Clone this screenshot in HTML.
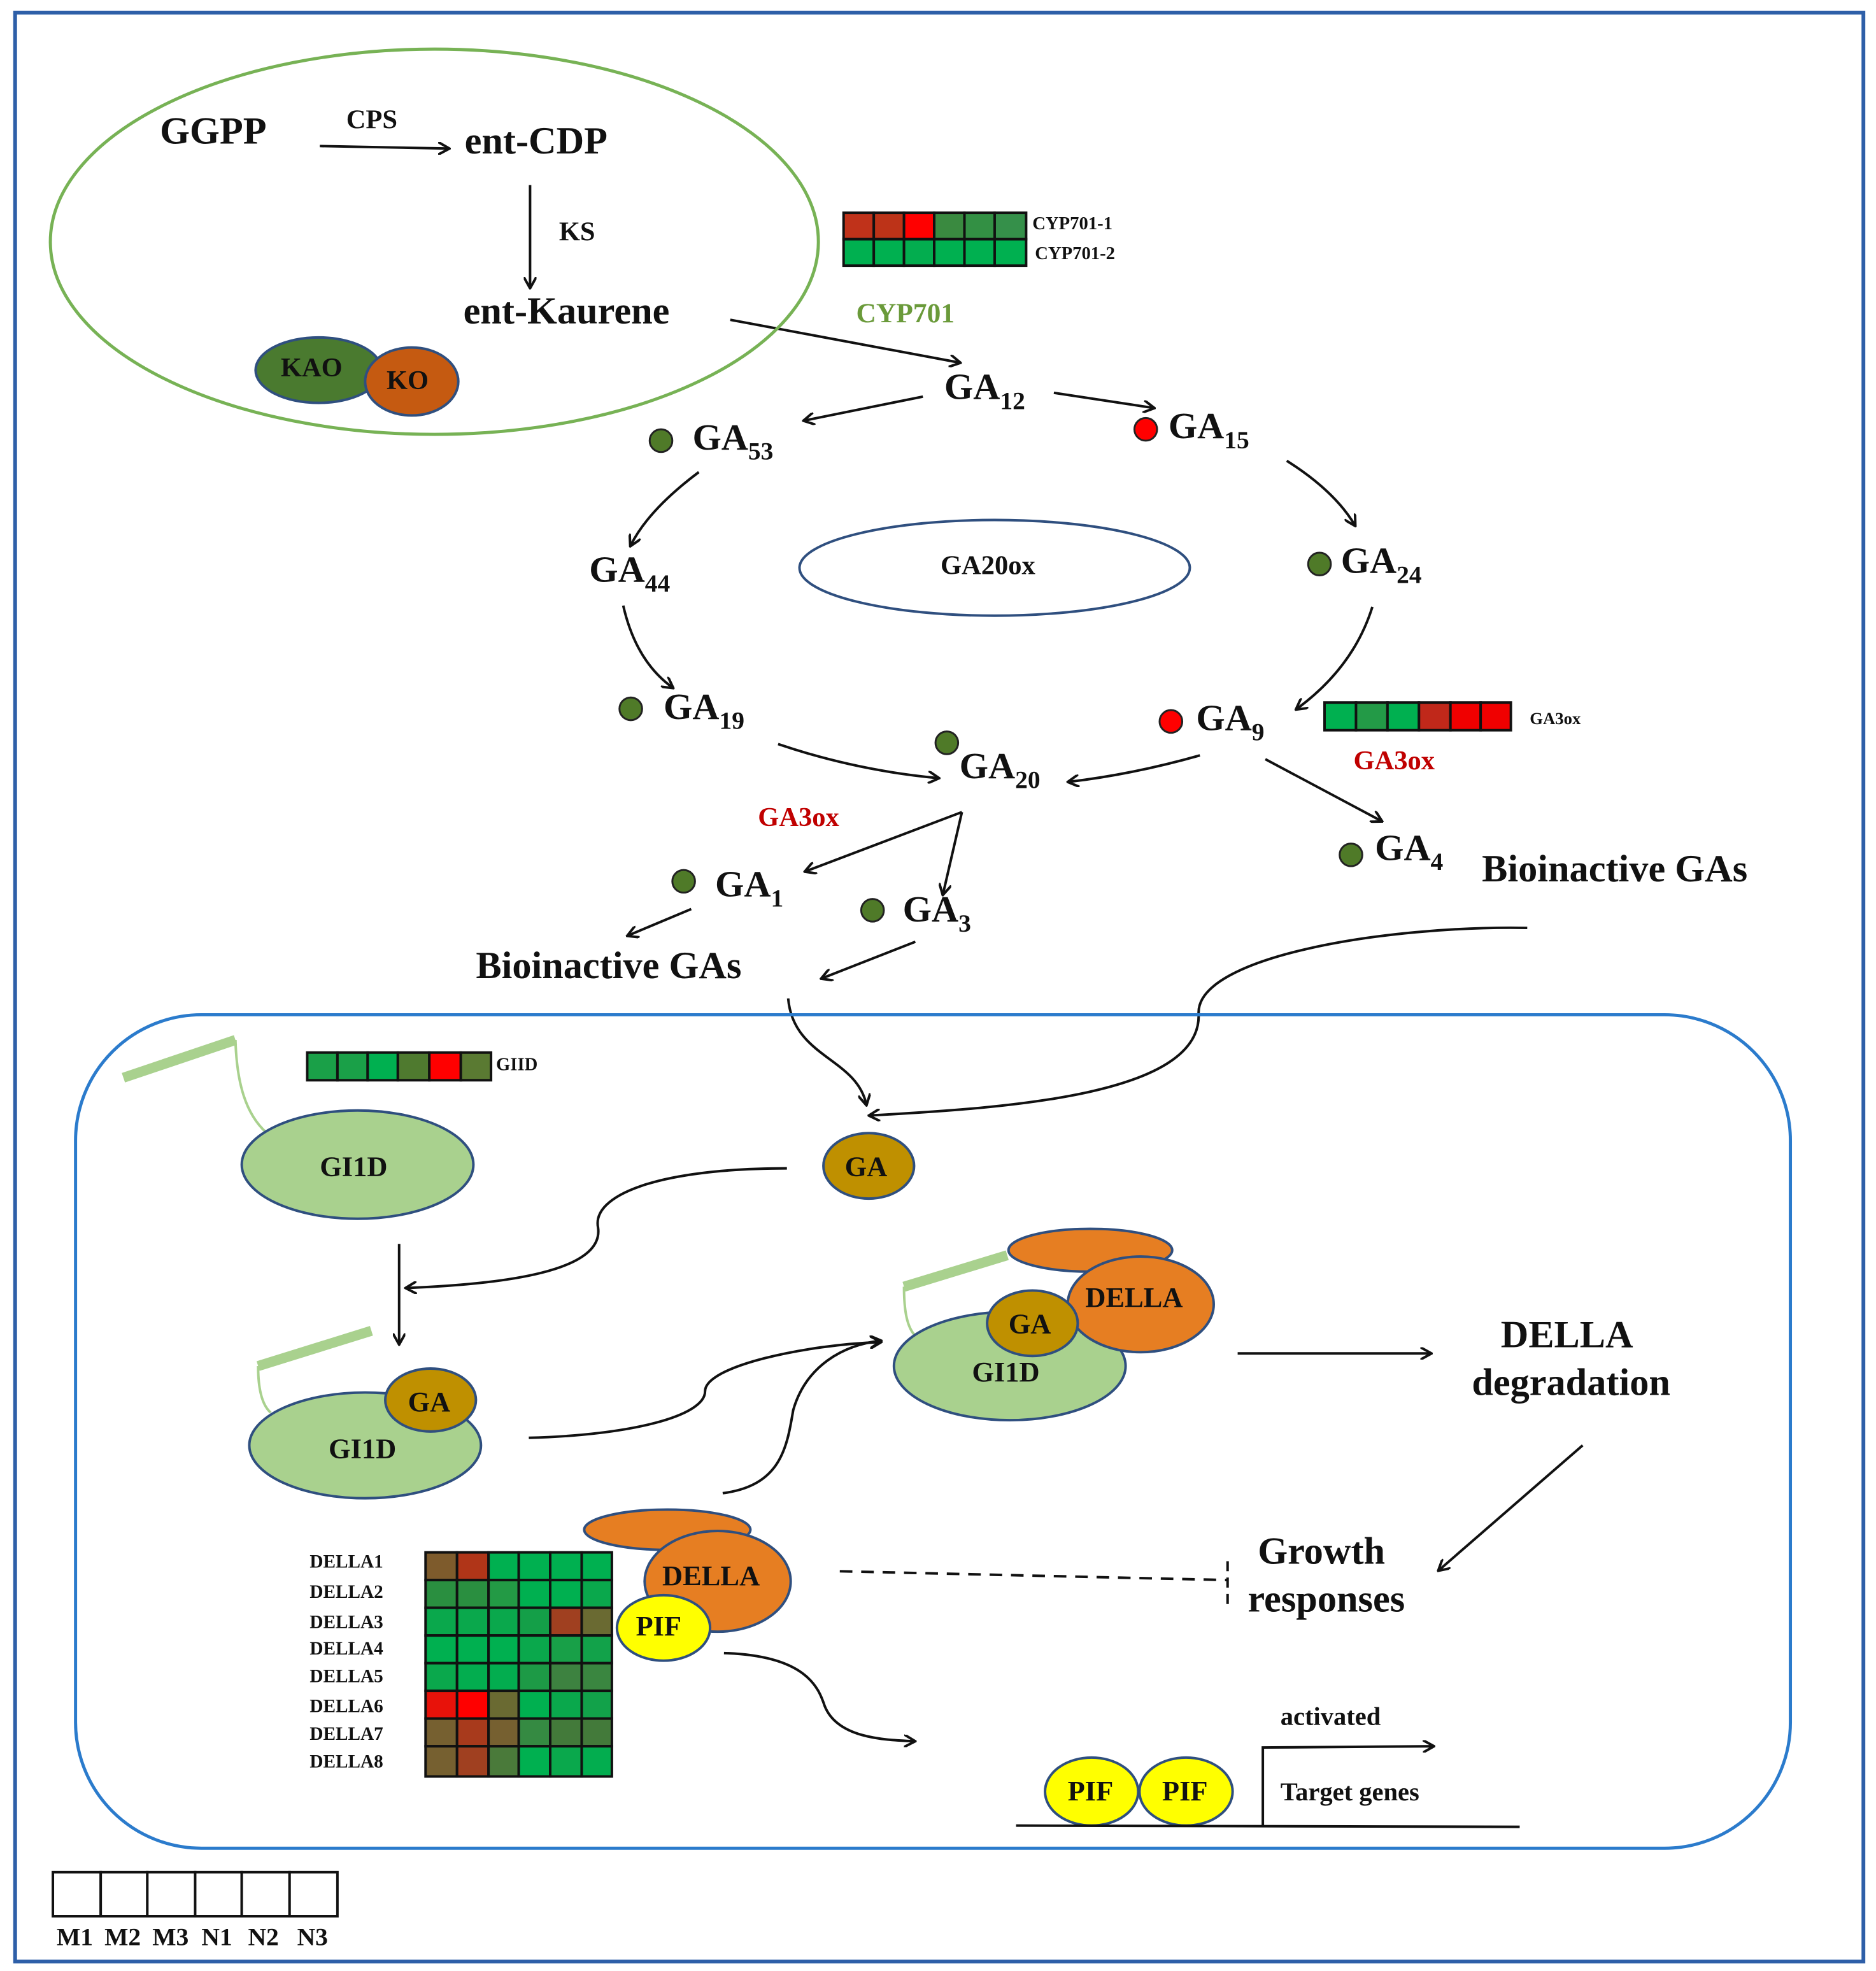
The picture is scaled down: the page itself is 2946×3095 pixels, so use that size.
<!DOCTYPE html>
<html><head><meta charset="utf-8"><style>html,body{margin:0;padding:0;background:#fff}svg{display:block}text{font-family:"Liberation Serif",serif;font-weight:bold;fill:#111}</style></head><body>
<svg width="2946" height="3095" viewBox="0 0 1490 1565.5" preserveAspectRatio="none" xmlns="http://www.w3.org/2000/svg">
<defs><marker id="a" markerWidth="10" markerHeight="10" refX="8" refY="5" orient="auto" markerUnits="userSpaceOnUse"><path d="M0,0 L9,5 L0,10" fill="none" stroke="#111" stroke-width="2"/></marker></defs>
<rect x="12" y="10" width="1468" height="1548" fill="none" stroke="#2e5fa8" stroke-width="3"/>
<g stroke="#111" stroke-width="2" fill="none" marker-end="url(#a)">
<line x1="254" y1="116" x2="356" y2="118"/>
<line x1="421" y1="147" x2="421" y2="228"/>
<line x1="580" y1="254" x2="762" y2="288"/>
<line x1="733" y1="315" x2="639" y2="334"/>
<line x1="837" y1="312" x2="916" y2="324"/>
<path d="M555,375 Q515,405 501,433"/>
<path d="M1022,366 Q1060,390 1076,417"/>
<path d="M495,481 Q505,525 534,546"/>
<path d="M1090,482 Q1075,530 1030,563"/>
<path d="M618,591 Q680,612 745,618"/>
<path d="M953,600 Q900,615 849,621"/>
<line x1="1005" y1="603" x2="1097" y2="652"/>
<line x1="764" y1="645" x2="640" y2="692"/>
<line x1="764" y1="645" x2="749" y2="710"/>
<line x1="549" y1="722" x2="499" y2="743"/>
<line x1="727" y1="748" x2="653" y2="777"/>
<path d="M1213,737 C1100,735 950,760 952,805 C955,870 800,880 691,886"/>
<path d="M626,793 C630,840 680,840 688,877"/>
<path d="M625,928 C520,928 470,950 475,975 C480,1010 400,1020 323,1023"/>
<line x1="317" y1="988" x2="317" y2="1067"/>
<path d="M420,1142 C500,1140 560,1125 560,1105 C560,1085 640,1068 699,1066"/>
<path d="M574,1186 C620,1180 625,1150 630,1120 C640,1085 670,1068 699,1065"/>
<line x1="983" y1="1075" x2="1136" y2="1075"/>
<line x1="1257" y1="1148" x2="1143" y2="1247"/>
<path d="M575,1313 C640,1315 650,1340 655,1355 C665,1380 700,1382 726,1383"/>
<polyline points="1003,1450 1003,1388 1138,1387"/>
</g>
<ellipse cx="345" cy="192" rx="305" ry="153" fill="none" stroke="#77b255" stroke-width="2.5"/>
<text x="127" y="114" font-size="30.5">GGPP</text>
<text x="275" y="102" font-size="21.5">CPS</text>
<text x="369" y="122" font-size="30.5">ent-CDP</text>
<text x="444" y="191" font-size="21.5">KS</text>
<text x="368" y="257" font-size="30.5">ent-Kaurene</text>
<ellipse cx="253" cy="294" rx="50" ry="26" fill="#4a7a2f" stroke="#2f4f7f" stroke-width="2"/>
<ellipse cx="327" cy="303" rx="37" ry="27" fill="#c55a11" stroke="#2f4f7f" stroke-width="2"/>
<text x="223" y="299" font-size="21.5">KAO</text><text x="307" y="309" font-size="21.5">KO</text>
<g stroke="#111" stroke-width="2">
<rect x="670" y="169" width="24" height="21" fill="#c0321a"/><rect x="694" y="169" width="24" height="21" fill="#bd3318"/><rect x="718" y="169" width="24" height="21" fill="#ff0000"/><rect x="742" y="169" width="24" height="21" fill="#3a8a40"/><rect x="766" y="169" width="24" height="21" fill="#339044"/><rect x="790" y="169" width="25" height="21" fill="#35904a"/>
<rect x="670" y="190" width="24" height="21" fill="#00b050"/><rect x="694" y="190" width="24" height="21" fill="#00b050"/><rect x="718" y="190" width="24" height="21" fill="#03ad4f"/><rect x="742" y="190" width="24" height="21" fill="#00b050"/><rect x="766" y="190" width="24" height="21" fill="#00b050"/><rect x="790" y="190" width="25" height="21" fill="#00b050"/>
</g>
<text x="820" y="182" font-size="14.5">CYP701-1</text><text x="822" y="206" font-size="14.5">CYP701-2</text>
<text x="680" y="256" font-size="22" style="fill:#6a9a3a">CYP701</text>
<g font-size="29.5">
<text x="750" y="317">GA<tspan font-size="20" dy="8">12</tspan></text>
<text x="550" y="357">GA<tspan font-size="20" dy="8">53</tspan></text>
<text x="928" y="348">GA<tspan font-size="20" dy="8">15</tspan></text>
<text x="468" y="462">GA<tspan font-size="20" dy="8">44</tspan></text>
<text x="1065" y="455">GA<tspan font-size="20" dy="8">24</tspan></text>
<text x="527" y="571">GA<tspan font-size="20" dy="8">19</tspan></text>
<text x="950" y="580">GA<tspan font-size="20" dy="8">9</tspan></text>
<text x="762" y="618">GA<tspan font-size="20" dy="8">20</tspan></text>
<text x="1092" y="683">GA<tspan font-size="20" dy="8">4</tspan></text>
<text x="568" y="712">GA<tspan font-size="20" dy="8">1</tspan></text>
<text x="717" y="732">GA<tspan font-size="20" dy="8">3</tspan></text>
</g>
<g font-size="30.5">
<text x="1177" y="700">Bioinactive GAs</text>
<text x="378" y="777">Bioinactive GAs</text>
</g>
<g stroke="#222" stroke-width="1.5">
<circle cx="525" cy="350" r="9" fill="#4f7a28"/><circle cx="910" cy="341" r="9" fill="#ff0000"/><circle cx="1048" cy="448" r="9" fill="#4f7a28"/><circle cx="501" cy="563" r="9" fill="#4f7a28"/><circle cx="930" cy="573" r="9" fill="#ff0000"/><circle cx="752" cy="590" r="9" fill="#4f7a28"/><circle cx="1073" cy="679" r="9" fill="#4f7a28"/><circle cx="543" cy="700" r="9" fill="#4f7a28"/><circle cx="693" cy="723" r="9" fill="#4f7a28"/>
</g>
<ellipse cx="790" cy="451" rx="155" ry="38" fill="none" stroke="#2f4f7f" stroke-width="2"/>
<text x="747" y="456" font-size="21.5">GA20ox</text>
<g stroke="#111" stroke-width="2">
<rect x="1052" y="558" width="25" height="22" fill="#00b050"/><rect x="1077" y="558" width="25" height="22" fill="#239a47"/><rect x="1102" y="558" width="25" height="22" fill="#00b050"/><rect x="1127" y="558" width="25" height="22" fill="#c0281a"/><rect x="1152" y="558" width="24" height="22" fill="#f00000"/><rect x="1176" y="558" width="24" height="22" fill="#f00000"/>
</g>
<text x="1215" y="575" font-size="13.5">GA3ox</text>
<text x="1075" y="611" font-size="21.5" style="fill:#c00000">GA3ox</text>
<text x="602" y="656" font-size="21.5" style="fill:#c00000">GA3ox</text>
<rect x="60" y="806" width="1362" height="662" rx="100" fill="none" stroke="#2b7bcc" stroke-width="2.5"/>
<g stroke="#111" stroke-width="2">
<rect x="244" y="836" width="24" height="22" fill="#1aa048"/><rect x="268" y="836" width="24" height="22" fill="#1aa048"/><rect x="292" y="836" width="24" height="22" fill="#00b050"/><rect x="316" y="836" width="25" height="22" fill="#4f7a2f"/><rect x="341" y="836" width="25" height="22" fill="#ff0000"/><rect x="366" y="836" width="24" height="22" fill="#5a7a32"/>
</g>
<text x="394" y="850" font-size="14.5">GIID</text>
<line x1="98" y1="856" x2="187" y2="826" stroke="#a9d18e" stroke-width="8"/>
<path d="M187,826 C188,860 195,885 212,900" fill="none" stroke="#a9d18e" stroke-width="2"/>
<ellipse cx="284" cy="925" rx="92" ry="43" fill="#a9d18e" stroke="#2f4f7f" stroke-width="2"/>
<text x="254" y="934" font-size="22.5">GI1D</text>
<ellipse cx="690" cy="926" rx="36" ry="26" fill="#bf9000" stroke="#2f4f7f" stroke-width="2"/>
<text x="671" y="934" font-size="22.5">GA</text>
<line x1="205" y1="1085" x2="295" y2="1057" stroke="#a9d18e" stroke-width="8"/>
<path d="M205,1085 C205,1100 207,1115 215,1122" fill="none" stroke="#a9d18e" stroke-width="2"/>
<ellipse cx="290" cy="1148" rx="92" ry="42" fill="#a9d18e" stroke="#2f4f7f" stroke-width="2"/>
<ellipse cx="342" cy="1112" rx="36" ry="25" fill="#bf9000" stroke="#2f4f7f" stroke-width="2"/>
<text x="261" y="1158" font-size="22.5">GI1D</text><text x="324" y="1121" font-size="22.5">GA</text>
<line x1="718" y1="1022" x2="800" y2="997" stroke="#a9d18e" stroke-width="8"/>
<path d="M718,1022 C718,1040 720,1055 728,1062" fill="none" stroke="#a9d18e" stroke-width="2"/>
<ellipse cx="802" cy="1085" rx="92" ry="43" fill="#a9d18e" stroke="#2f4f7f" stroke-width="2"/>
<ellipse cx="866" cy="993" rx="65" ry="17" fill="#e67e22" stroke="#2f4f7f" stroke-width="2"/>
<ellipse cx="906" cy="1036" rx="58" ry="38" fill="#e67e22" stroke="#2f4f7f" stroke-width="2"/>
<ellipse cx="820" cy="1051" rx="36" ry="26" fill="#bf9000" stroke="#2f4f7f" stroke-width="2"/>
<text x="862" y="1038" font-size="22.5">DELLA</text><text x="801" y="1059" font-size="22.5">GA</text><text x="772" y="1097" font-size="22.5">GI1D</text>
<text x="1192" y="1070" font-size="30.5">DELLA</text><text x="1169" y="1108" font-size="30.5">degradation</text>
<text x="999" y="1242" font-size="30.5">Growth</text><text x="991" y="1280" font-size="30.5">responses</text>
<line x1="667" y1="1248" x2="975" y2="1255" stroke="#111" stroke-width="2" stroke-dasharray="10,7"/>
<line x1="975" y1="1240" x2="975" y2="1277" stroke="#111" stroke-width="2" stroke-dasharray="8,5"/>
<g stroke="#111" stroke-width="2">
<rect x="338" y="1233" width="25" height="22" fill="#7e5b2c"/><rect x="363" y="1233" width="25" height="22" fill="#b03518"/><rect x="388" y="1233" width="24" height="22" fill="#00b050"/><rect x="412" y="1233" width="25" height="22" fill="#00b050"/><rect x="437" y="1233" width="25" height="22" fill="#00b050"/><rect x="462" y="1233" width="24" height="22" fill="#00b050"/>
<rect x="338" y="1255" width="25" height="22" fill="#2a8f40"/><rect x="363" y="1255" width="25" height="22" fill="#2a8f40"/><rect x="388" y="1255" width="24" height="22" fill="#239a45"/><rect x="412" y="1255" width="25" height="22" fill="#00b050"/><rect x="437" y="1255" width="25" height="22" fill="#00b050"/><rect x="462" y="1255" width="24" height="22" fill="#0aa84c"/>
<rect x="338" y="1277" width="25" height="22" fill="#0aa84c"/><rect x="363" y="1277" width="25" height="22" fill="#0aa84c"/><rect x="388" y="1277" width="24" height="22" fill="#0aa84c"/><rect x="412" y="1277" width="25" height="22" fill="#149f48"/><rect x="437" y="1277" width="25" height="22" fill="#a04020"/><rect x="462" y="1277" width="24" height="22" fill="#6a6a32"/>
<rect x="338" y="1299" width="25" height="22" fill="#00b050"/><rect x="363" y="1299" width="25" height="22" fill="#00b050"/><rect x="388" y="1299" width="24" height="22" fill="#00b050"/><rect x="412" y="1299" width="25" height="22" fill="#0aa84c"/><rect x="437" y="1299" width="25" height="22" fill="#18a048"/><rect x="462" y="1299" width="24" height="22" fill="#12a24a"/>
<rect x="338" y="1321" width="25" height="22" fill="#0aa84c"/><rect x="363" y="1321" width="25" height="22" fill="#03ad4f"/><rect x="388" y="1321" width="24" height="22" fill="#03ad4f"/><rect x="412" y="1321" width="25" height="22" fill="#1d9a46"/><rect x="437" y="1321" width="25" height="22" fill="#3d8240"/><rect x="462" y="1321" width="24" height="22" fill="#3a8640"/>
<rect x="338" y="1343" width="25" height="22" fill="#e8120a"/><rect x="363" y="1343" width="25" height="22" fill="#ff0000"/><rect x="388" y="1343" width="24" height="22" fill="#6a6a32"/><rect x="412" y="1343" width="25" height="22" fill="#00b050"/><rect x="437" y="1343" width="25" height="22" fill="#0aa84c"/><rect x="462" y="1343" width="24" height="22" fill="#12a24a"/>
<rect x="338" y="1365" width="25" height="22" fill="#766030"/><rect x="363" y="1365" width="25" height="22" fill="#a83a1c"/><rect x="388" y="1365" width="24" height="22" fill="#766030"/><rect x="412" y="1365" width="25" height="22" fill="#358a42"/><rect x="437" y="1365" width="25" height="22" fill="#437a3a"/><rect x="462" y="1365" width="24" height="22" fill="#437a3a"/>
<rect x="338" y="1387" width="25" height="24" fill="#766030"/><rect x="363" y="1387" width="25" height="24" fill="#a04020"/><rect x="388" y="1387" width="24" height="24" fill="#4a7a3a"/><rect x="412" y="1387" width="25" height="24" fill="#00b050"/><rect x="437" y="1387" width="25" height="24" fill="#0aa84c"/><rect x="462" y="1387" width="24" height="24" fill="#03ad4f"/>
</g>
<g font-size="14.8">
<text x="246" y="1245">DELLA1</text><text x="246" y="1269">DELLA2</text><text x="246" y="1293">DELLA3</text><text x="246" y="1314">DELLA4</text><text x="246" y="1336">DELLA5</text><text x="246" y="1360">DELLA6</text><text x="246" y="1382">DELLA7</text><text x="246" y="1404">DELLA8</text>
</g>
<ellipse cx="530" cy="1215" rx="66" ry="16" fill="#e67e22" stroke="#2f4f7f" stroke-width="2"/>
<ellipse cx="570" cy="1256" rx="58" ry="40" fill="#e67e22" stroke="#2f4f7f" stroke-width="2"/>
<ellipse cx="527" cy="1293" rx="37" ry="26" fill="#ffff00" stroke="#2f4f7f" stroke-width="2"/>
<text x="526" y="1259" font-size="22.5">DELLA</text><text x="505" y="1299" font-size="22.5">PIF</text>
<ellipse cx="867" cy="1423" rx="37" ry="27" fill="#ffff00" stroke="#2f4f7f" stroke-width="2"/>
<ellipse cx="942" cy="1423" rx="37" ry="27" fill="#ffff00" stroke="#2f4f7f" stroke-width="2"/>
<text x="848" y="1430" font-size="22.5">PIF</text><text x="923" y="1430" font-size="22.5">PIF</text>
<line x1="807" y1="1450" x2="1207" y2="1451" stroke="#111" stroke-width="2"/>
<text x="1017" y="1370" font-size="20.5">activated</text><text x="1017" y="1430" font-size="20.5">Target genes</text>
<g stroke="#111" stroke-width="2" fill="#fff">
<rect x="42" y="1487" width="38" height="35"/><rect x="80" y="1487" width="37" height="35"/><rect x="117" y="1487" width="38" height="35"/><rect x="155" y="1487" width="37" height="35"/><rect x="192" y="1487" width="38" height="35"/><rect x="230" y="1487" width="38" height="35"/>
</g>
<g font-size="20"><text x="45" y="1545">M1</text><text x="83" y="1545">M2</text><text x="121" y="1545">M3</text><text x="160" y="1545">N1</text><text x="197" y="1545">N2</text><text x="236" y="1545">N3</text></g>
</svg>
</body></html>
